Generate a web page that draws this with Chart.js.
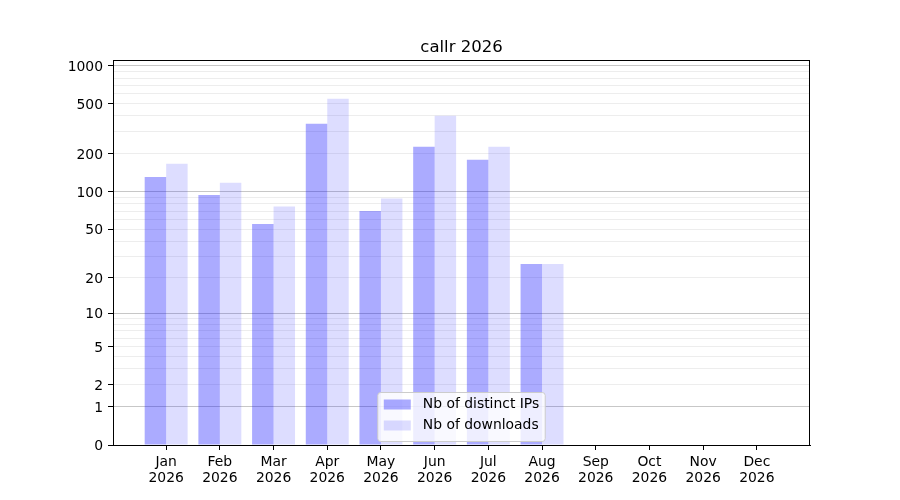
<!DOCTYPE html>
<html>
<head>
<meta charset="utf-8">
<script src="https://cdn.jsdelivr.net/npm/chart.js@4/dist/chart.umd.min.js"></script>
<style>
  html, body { margin: 0; padding: 0; background: #fff; }
  #wrap { width: 900px; height: 500px; }
</style>
</head>
<body>
<div id="wrap"><canvas id="chart" width="900" height="500"></canvas></div>
<script>
// data
const months = ["Jan", "Feb", "Mar", "Apr", "May", "Jun", "Jul", "Aug", "Sep", "Oct", "Nov", "Dec"];
const year = "2026";
const distinctIPs = [131, 94, 55, 347, 70, 228, 180, 26, 0, 0, 0, 0];
const downloads = [167, 118, 76, 548, 88, 402, 228, 26, 0, 0, 0, 0];
const yLabels = [0, 1, 2, 5, 10, 20, 50, 100, 200, 500, 1000];
const yMajorGrid = [1, 10, 100, 1000];
const yMax = 1111;

// y positions follow log10(v + 1)
class Log1pScale extends Chart.Scale {
  static id = "log1p";
  static defaults = {};

  determineDataLimits() {
    const { min, max } = this.getMinMax(true);
    this.min = Math.max(0, min);
    this.max = max;
  }

  buildTicks() {
    const ticks = [{ value: 0 }];
    for (let dec = 1; dec <= this.max; dec *= 10) {
      for (let m = 1; m <= 9; m++) {
        const v = m * dec;
        if (v <= this.max) ticks.push({ value: v });
      }
    }
    return ticks;
  }

  configure() {
    super.configure();
    this._start = Math.log10(this.min + 1);
    this._range = Math.log10(this.max + 1) - this._start;
  }

  getLabelForValue(value) {
    return String(value);
  }

  getPixelForValue(value) {
    return this.getPixelForDecimal((Math.log10(value + 1) - this._start) / this._range);
  }

  getValueForPixel(pixel) {
    return Math.pow(10, this._start + this.getDecimalForPixel(pixel) * this._range) - 1;
  }
}
Chart.register(Log1pScale);

const font = { family: "DejaVu Sans", size: 13.9, lineHeight: 1.15 };

// matplotlib style frame, title and legend
const decorations = {
  id: "decorations",
  afterDraw(chart) {
    const { ctx, chartArea: a } = chart;
    ctx.save();

    ctx.strokeStyle = "#000";
    ctx.lineWidth = 1;
    ctx.strokeRect(a.left + 0.5, a.top + 0.5, a.right - a.left - 1, a.bottom - a.top);

    ctx.fillStyle = "#000";
    ctx.font = "16.5px 'DejaVu Sans'";
    ctx.textAlign = "center";
    ctx.textBaseline = "alphabetic";
    ctx.fillText("callr " + year, (a.left + a.right) / 2, 52);

    ctx.font = "13.9px 'DejaVu Sans'";
    const sets = chart.data.datasets;
    const textW = Math.max(...sets.map(d => ctx.measureText(d.label).width));
    const w = 6 + 27 + 12 + textW + 6;
    const h = 49;
    const x = (a.left + a.right) / 2 - w / 2;
    const y = a.bottom - 3.5 - h;
    ctx.beginPath();
    ctx.roundRect(x, y, w, h, 3);
    ctx.fillStyle = "rgba(255,255,255,0.8)";
    ctx.fill();
    ctx.strokeStyle = "#cccccc";
    ctx.stroke();

    ctx.textAlign = "left";
    ctx.textBaseline = "middle";
    sets.forEach((d, i) => {
      const cy = y + 12 + i * 21;
      ctx.fillStyle = d.backgroundColor;
      ctx.fillRect(x + 6, cy - 5, 27, 10);
      ctx.fillStyle = "#000";
      ctx.fillText(d.label, x + 45, cy);
    });
    ctx.restore();
  }
};

new Chart(document.getElementById("chart"), {
  type: "bar",
  data: {
    labels: months.map((m, i) => i),
    datasets: [
      {
        label: "Nb of distinct IPs",
        data: distinctIPs,
        backgroundColor: "rgba(0,0,255,0.33)",
        barPercentage: 1,
        categoryPercentage: 0.8
      },
      {
        label: "Nb of downloads",
        data: downloads,
        backgroundColor: "rgba(0,0,255,0.133)",
        barPercentage: 1,
        categoryPercentage: 0.8
      }
    ]
  },
  options: {
    responsive: false,
    animation: false,
    devicePixelRatio: 1,
    layout: { padding: { left: 0, top: 60, right: 90, bottom: 0 } },
    plugins: {
      legend: { display: false },
      tooltip: { enabled: false },
      title: { display: false }
    },
    scales: {
      x: {
        type: "linear",
        min: -0.99,
        max: 11.99,
        offset: false,
        afterBuildTicks: axis => {
          axis.ticks = months.map((m, i) => ({ value: i }));
        },
        afterFit: axis => { axis.height = 55; },
        grid: { offset: false, drawOnChartArea: false, tickLength: 5, tickColor: "#000" },
        border: { color: "#000" },
        ticks: {
          autoSkip: false,
          maxRotation: 0,
          padding: 4,
          color: "#000",
          font,
          callback: value => [months[value], year]
        }
      },
      y: {
        type: "log1p",
        min: 0,
        max: yMax,
        afterFit: axis => { axis.width = 113; },
        grid: {
          tickLength: 5,
          color: c => yMajorGrid.includes(c.tick.value) ? "rgba(0,0,0,0.22)" : "rgba(0,0,0,0.07)",
          tickColor: c => yLabels.includes(c.tick.value) ? "#000" : "rgba(0,0,0,0)"
        },
        border: { color: "#000" },
        ticks: {
          autoSkip: false,
          padding: 5,
          labelOffset: 1.5,
          color: "#000",
          font,
          callback: value => yLabels.includes(value) ? String(value) : ""
        }
      }
    }
  },
  plugins: [decorations]
});
</script>
</body>
</html>
